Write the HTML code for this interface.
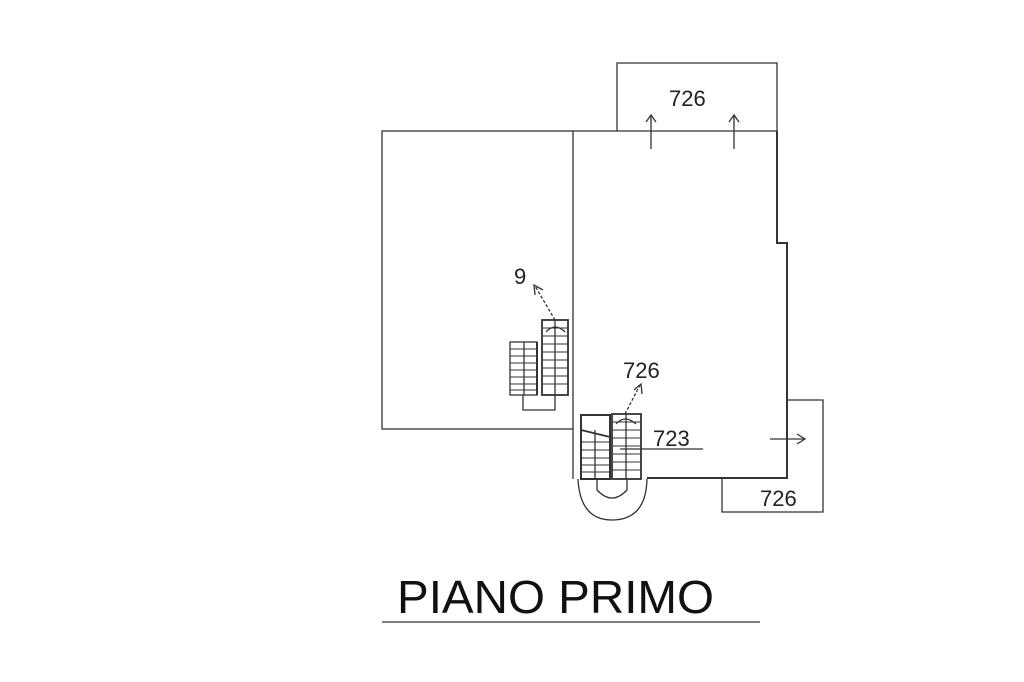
<!DOCTYPE html>
<html><head><style>html,body{margin:0;padding:0;background:#fff;}svg{display:block}</style></head>
<body>
<svg width="1024" height="682" viewBox="0 0 1024 682" xmlns="http://www.w3.org/2000/svg" font-family="Liberation Sans, sans-serif">
<g fill="none" stroke="#333" stroke-width="1.3">
<!-- top box -->
<polyline points="617,131 617,63 777,63 777,131"/>
<!-- left rect -->
<rect x="382" y="131" width="191" height="298"/>
<!-- main room -->
<line x1="573" y1="131" x2="777" y2="131"/>
<line x1="573" y1="429" x2="573" y2="479"/>
<polyline points="777,131 777,243 787,243 787,478 647,478" stroke-width="2"/>
<!-- right boxes -->
<polyline points="787,400 823,400 823,512 722,512 722,478"/>
<!-- arrows top -->
<line x1="651" y1="149" x2="651" y2="115"/><polyline points="646,122 651,115 656,122"/>
<line x1="734" y1="149" x2="734" y2="115"/><polyline points="729,122 734,115 739,122"/>
<!-- right arrow -->
<line x1="770" y1="439" x2="805" y2="439"/><polyline points="797,434 805,439 797,444"/>
<!-- stair 1 -->
<rect x="510" y="342" width="27" height="53"/>
<line x1="524" y1="342" x2="524" y2="395"/>
<rect x="542" y="320" width="26" height="75" stroke-width="1.8"/>
<line x1="555" y1="320" x2="555" y2="395"/>
<polyline points="523,395 523,410 555,410 555,395"/>
<line x1="537" y1="342" x2="537" y2="395" stroke-width="2"/>
<line x1="555" y1="320" x2="535" y2="286" stroke-dasharray="3,2"/><polyline points="535,295 534,285 543,290"/>
<path d="M546,332 Q555,322 565,332"/>
<!-- stair 2 -->
<rect x="581" y="415" width="29" height="64" stroke-width="2"/>
<line x1="595" y1="430" x2="595" y2="479"/>
<line x1="581" y1="430" x2="610" y2="437" stroke-width="1.8"/>
<rect x="612" y="414" width="29" height="65" stroke-width="1.8"/>
<line x1="626" y1="414" x2="626" y2="479"/>
<line x1="620" y1="449" x2="703" y2="449"/>
<line x1="625" y1="414" x2="640" y2="385" stroke-dasharray="3,2"/><polyline points="634,390 641,384 642,394"/>
<path d="M616,424 Q625,414 636,424"/>
<path d="M597,479 L597,490 Q612,506 627,490 L627,479"/>
<path d="M578,479 Q580,520 612,520 Q646,520 647,479"/>
</g>
<g stroke="#333" stroke-width="1">
<path d="M510,349h27M510,356h27M510,363h27M510,370h27M510,377h27M510,384h27M510,390h27"/>
<path d="M542,328h26M542,336h26M542,344h26M542,352h26M542,360h26M542,368h26M542,376h26M542,384h26"/>
<path d="M581,442h29M581,450h29M581,458h29M581,465h29M581,472h29"/>
<path d="M612,422h29M612,430h29M612,438h29M612,446h29M612,454h29M612,462h29M612,470h29"/>
</g>
<g fill="#222" font-size="22">
<text x="669" y="106">726</text>
<text x="514" y="284">9</text>
<text x="623" y="378">726</text>
<text x="653" y="446">723</text>
<text x="760" y="506">726</text>
</g>
<text x="397" y="613" font-size="46" fill="#111" textLength="317" lengthAdjust="spacingAndGlyphs">PIANO PRIMO</text>
<line x1="382" y1="622" x2="760" y2="622" stroke="#555" stroke-width="1.5"/>
</svg>
</body></html>
